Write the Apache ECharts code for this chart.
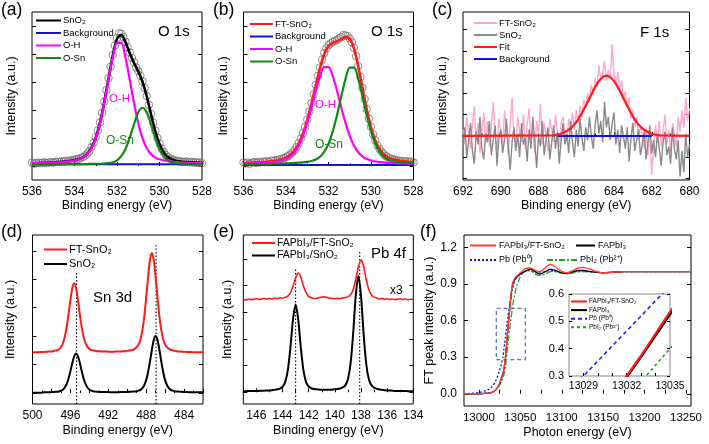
<!DOCTYPE html>
<html><head><meta charset="utf-8">
<script src="https://cdn.jsdelivr.net/npm/echarts@6/dist/echarts.min.js"></script>
<style>html,body{margin:0;padding:0;background:#fff}#c{width:709px;height:444px}</style>
</head><body><div id="c"></div>
<script>
// ---------- helpers for regular energy grids ----------
function seq(a, b, s) { const n = Math.round((b - a) / s); const r = []; for (let i = 0; i <= n; i++) r.push(Math.round((a + i * s) * 100) / 100); return r; }
function pairs(xs, ys) { return xs.map((x, i) => [x, ys[i]]); }

// ---------- (a) O 1s, SnO2 ----------
const aFitE = seq(536, 528, -0.2);
const aRawE = seq(536, 528, -0.1);
const aOH = [0.10,0.10,0.11,0.11,0.12,0.12,0.13,0.14,0.16,0.17,0.20,0.24,0.30,0.42,0.64,0.99,1.53,2.25,3.08,3.87,4.40,4.40,3.87,3.08,2.25,1.53,0.99,0.64,0.42,0.30,0.24,0.20,0.17,0.16,0.14,0.13,0.12,0.12,0.11,0.11,0.10];
const aOSn = [0.06,0.06,0.06,0.06,0.06,0.06,0.07,0.07,0.07,0.07,0.07,0.07,0.07,0.07,0.08,0.08,0.08,0.09,0.10,0.13,0.20,0.35,0.61,1.01,1.49,1.91,2.08,1.91,1.49,1.01,0.61,0.35,0.20,0.13,0.10,0.09,0.08,0.08,0.08,0.07,0.07];
const aEnv = [0.10,0.10,0.11,0.11,0.12,0.12,0.14,0.15,0.17,0.18,0.21,0.25,0.31,0.43,0.66,1.01,1.55,2.28,3.12,3.94,4.54,4.69,4.42,4.03,3.68,3.38,3.01,2.49,1.85,1.25,0.79,0.49,0.31,0.23,0.18,0.16,0.14,0.14,0.13,0.12,0.11];
const aRaw = [0.12,0.08,0.11,0.12,0.10,0.12,0.13,0.10,0.13,0.14,0.12,
  0.15,0.15,0.14,0.17,0.16,0.19,0.18,0.19,0.21,0.22,
  0.24,0.26,0.29,0.32,0.37,0.44,0.53,0.67,0.83,1.03,
  1.27,1.56,1.90,2.30,2.71,3.14,3.55,3.96,4.30,4.57,
  4.74,4.72,4.60,4.44,4.24,4.05,3.86,3.70,3.52,3.39,
  3.22,3.02,2.78,2.50,2.18,1.86,1.55,1.26,1.00,0.80,
  0.62,0.50,0.39,0.32,0.26,0.24,0.20,0.19,0.16,0.17,
  0.14,0.15,0.16,0.13,0.15,0.12,0.14,0.11,0.13,0.10];
const aBgE = [536, 528], aBg = [0.06, 0.06];

// ---------- (b) O 1s, FT-SnO2 ----------
const bOH = [0.08,0.09,0.09,0.10,0.11,0.11,0.13,0.14,0.16,0.20,0.25,0.34,0.49,0.73,1.07,1.54,2.09,2.69,3.21,3.53,3.53,3.21,2.69,2.09,1.54,1.07,0.73,0.49,0.34,0.25,0.20,0.16,0.14,0.13,0.11,0.11,0.10,0.09,0.09,0.08,0.08];
const bOSn = [0.06,0.06,0.06,0.07,0.07,0.07,0.07,0.08,0.08,0.09,0.09,0.10,0.11,0.12,0.13,0.15,0.18,0.23,0.33,0.51,0.79,1.23,1.81,2.48,3.11,3.51,3.51,3.11,2.48,1.81,1.23,0.79,0.51,0.33,0.23,0.18,0.15,0.13,0.12,0.11,0.10];
const bEnv = [0.10,0.11,0.11,0.13,0.14,0.14,0.16,0.18,0.20,0.25,0.30,0.40,0.56,0.81,1.16,1.65,2.23,2.88,3.50,4.00,4.28,4.40,4.46,4.53,4.61,4.54,4.20,3.56,2.78,2.02,1.39,0.91,0.61,0.42,0.30,0.25,0.21,0.18,0.17,0.15,0.14];
const bRaw = [0.13,0.09,0.12,0.08,0.12,0.14,0.11,0.15,0.13,0.16,0.14,
  0.17,0.15,0.19,0.18,0.21,0.20,0.24,0.26,0.28,0.32,
  0.35,0.41,0.48,0.57,0.68,0.82,0.98,1.17,1.40,1.66,
  1.95,2.25,2.56,2.90,3.22,3.52,3.80,4.03,4.20,4.31,
  4.38,4.43,4.47,4.50,4.56,4.60,4.68,4.66,4.64,4.55,
  4.42,4.22,3.92,3.57,3.18,2.79,2.39,2.03,1.69,1.40,
  1.13,0.92,0.74,0.61,0.50,0.42,0.35,0.31,0.27,0.25,
  0.22,0.21,0.19,0.17,0.18,0.15,0.17,0.14,0.16,0.13];
const bBgE = [536, 528], bBg = [0.04, 0.04];

// ---------- (c) F 1s ----------
const cE = seq(692, 680, -0.1);
const cFT = [0.3,-0.4,0.9,0.1,-0.6,0.5,1.4,-0.2,0.6,-0.8,
  0.2,1.1,-0.3,0.7,-0.5,0.4,1.6,0.0,-0.7,0.8,
  0.2,-0.4,1.2,0.3,-0.9,0.6,1.8,0.1,-0.5,0.9,
  0.2,-0.3,1.0,-0.6,0.5,1.3,-0.2,0.4,-0.8,0.7,
  0.1,1.5,-0.4,0.6,0.0,-0.7,0.8,0.3,-0.3,1.0,
  0.2,-0.5,0.6,0.9,0.1,-0.2,0.8,0.4,1.1,0.3,
  1.2,0.6,1.4,0.9,1.7,1.3,2.0,1.6,2.4,1.9,
  2.7,2.3,3.3,2.6,2.9,3.5,2.6,3.1,2.7,4.3,
  2.9,2.4,3.0,2.2,2.6,1.7,2.1,1.3,1.8,0.8,
  1.2,0.4,0.9,-0.2,0.5,0.1,-0.6,0.4,-0.9,0.2,
  -1.8,-0.4,0.5,-0.3,0.7,-0.5,0.2,1.0,-0.4,0.3,
  -0.8,0.6,0.1,-0.5,0.9,0.2,1.2,0.4,1.8,0.7,
  1.3];
const cSn = [-0.5,0.4,-1.0,-0.2,0.6,-0.7,-1.3,0.2,-0.4,0.9,
  -0.6,-1.1,0.1,-0.3,0.7,-0.9,-0.2,0.5,-1.4,-0.1,
  0.3,-0.8,-0.2,0.8,-0.5,-1.6,-0.3,0.4,-0.7,0.1,
  -1.0,0.6,-0.4,-0.1,-1.2,0.3,-0.6,0.9,-0.3,-1.5,
  0.0,-0.5,0.7,-0.9,-0.2,0.4,-1.1,-0.3,0.5,-0.6,
  0.2,-1.3,-0.2,0.6,-0.4,0.1,-0.8,0.7,-0.3,-1.0,
  0.3,-0.5,0.8,-0.1,-0.7,0.4,-0.2,0.9,0.0,-0.6,
  0.5,1.2,0.1,0.7,-0.3,1.6,0.4,0.9,-0.2,0.6,
  1.1,-0.4,0.3,-0.8,0.5,0.0,-0.6,0.4,-1.2,-0.1,
  0.6,-0.7,-0.2,0.3,-0.9,-0.4,0.2,-1.1,-0.3,0.5,
  -0.8,-0.2,-1.0,0.1,-0.6,-1.4,-0.3,0.2,-0.9,-0.5,
  -1.3,0.4,-0.6,-1.1,-0.2,-1.9,-0.7,-1.7,0.1,-1.0,
  -0.4];
const cFitE = [692,687.4,687.2,687.0,686.8,686.6,686.4,686.2,686.0,685.8,685.6,685.4,685.2,685.0,684.8,684.6,684.4,684.2,684.0,683.8,683.6,683.4,683.2,683.0,682.8,682.6,682.4,682.2,682.0,681.8,681.6,681.4,680];
const cFit = [0,0.02,0.03,0.06,0.10,0.18,0.29,0.44,0.65,0.92,1.24,1.59,1.95,2.29,2.57,2.76,2.82,2.76,2.57,2.29,1.95,1.59,1.24,0.92,0.65,0.44,0.29,0.18,0.10,0.06,0.03,0.02,0];
const cBgE = [687, 682], cBg = [0, 0];

// ---------- (d) Sn 3d ----------
const dE = seq(500, 482, -0.2);
const dBlack = [0.01,0.01,0.01,0.01,0.01,0.01,0.02,0.02,0.02,0.02,
  0.03,0.03,0.04,0.04,0.05,0.08,0.11,0.19,0.31,0.50,
  0.76,1.05,1.29,1.39,1.29,1.05,0.76,0.50,0.32,0.19,
  0.12,0.08,0.06,0.05,0.04,0.04,0.03,0.03,0.03,0.03,
  0.03,0.02,0.02,0.02,0.02,0.02,0.03,0.03,0.03,0.03,
  0.03,0.04,0.04,0.05,0.05,0.06,0.08,0.11,0.17,0.27,
  0.45,0.73,1.10,1.51,1.86,2.00,1.86,1.51,1.10,0.73,
  0.45,0.27,0.17,0.11,0.08,0.06,0.05,0.05,0.04,0.04,
  0.03,0.03,0.03,0.02,0.02,0.02,0.02,0.02,0.02,0.02,
  0.02];
const dRed = [1.43,1.43,1.43,1.43,1.44,1.44,1.44,1.45,1.45,1.46,
  1.46,1.47,1.49,1.51,1.54,1.61,1.74,1.96,2.30,2.76,
  3.26,3.69,3.86,3.69,3.26,2.76,2.31,1.97,1.75,1.62,
  1.55,1.51,1.50,1.48,1.47,1.47,1.46,1.46,1.46,1.46,
  1.45,1.45,1.45,1.45,1.46,1.46,1.46,1.46,1.47,1.47,
  1.48,1.49,1.50,1.52,1.55,1.61,1.70,1.89,2.20,2.69,
  3.35,4.07,4.68,4.93,4.68,4.07,3.35,2.69,2.20,1.89,
  1.70,1.61,1.55,1.52,1.50,1.48,1.47,1.46,1.46,1.45,
  1.45,1.44,1.44,1.44,1.44,1.43,1.43,1.43,1.43,1.43,
  1.43];
const dGuideE = [495.35, 486.95], dGuideTop = [4.26, 5.26];

// ---------- (e) Pb 4f ----------
const eE = seq(147, 134, -0.2);
const eBlack = [0.04,0.04,0.05,0.05,0.05,0.05,0.05,0.06,0.06,0.07,
  0.07,0.08,0.09,0.11,0.14,0.20,0.38,0.81,1.66,2.73,
  3.29,2.73,1.67,0.82,0.38,0.21,0.15,0.12,0.11,0.10,
  0.09,0.09,0.09,0.09,0.10,0.11,0.12,0.14,0.18,0.26,
  0.49,1.07,2.20,3.62,4.36,3.62,2.20,1.07,0.49,0.26,
  0.17,0.13,0.11,0.09,0.08,0.07,0.07,0.06,0.05,0.05,
  0.05,0.05,0.05,0.04,0.04,0.04];
const eRed = [3.49,3.46,3.50,3.47,3.49,3.51,3.48,3.50,3.52,3.49,
  3.52,3.50,3.53,3.51,3.54,3.53,3.56,3.61,3.73,3.98,
  4.29,4.47,4.32,3.99,3.74,3.60,3.55,3.52,3.53,3.55,
  3.57,3.58,3.56,3.53,3.52,3.51,3.53,3.51,3.54,3.55,
  3.58,3.66,3.85,4.24,4.71,4.97,4.73,4.22,3.85,3.65,
  3.57,3.54,3.50,3.52,3.49,3.51,3.48,3.50,3.47,3.49,
  3.51,3.48,3.50,3.47,3.49,3.48];
const eGuideE = [143.0, 138.1], eGuideTop = [4.64, 5.29];

// ---------- (f) Pb L3-edge XANES ----------
const fE = [12982,13000,13010,13015,13020,13024,13027,13029,13030,13031,13032,13033,13034,13035,13036,13038,13040,13042,13045,13050,13055,13062,13068,13074,13080,13086,13092,13100,13106,13114,13120,13126,13134,13142,13150,13160,13175,13200,13225,13256];
const fFT = [0.00,0.00,0.005,0.01,0.03,0.07,0.13,0.17,0.20,0.245,0.30,0.375,0.455,0.535,0.61,0.76,0.88,0.93,0.96,0.99,1.02,1.03,1.01,1.00,1.03,1.06,1.04,1.00,0.99,1.01,1.03,1.035,1.02,1.00,0.99,0.995,1.00,1.00,1.00,1.00];
const fPero = [0.00,0.00,0.005,0.01,0.03,0.07,0.12,0.165,0.195,0.24,0.295,0.37,0.448,0.525,0.60,0.75,0.87,0.92,0.95,0.98,1.00,1.02,1.00,0.98,1.00,1.02,1.01,0.99,0.985,1.00,1.01,1.01,1.00,0.995,0.99,0.995,1.00,1.00,1.00,1.00];
const fPb = [0.00,0.01,0.03,0.05,0.10,0.17,0.24,0.30,0.355,0.41,0.465,0.52,0.575,0.63,0.68,0.76,0.84,0.90,0.95,0.98,1.00,1.01,0.99,0.99,1.00,1.01,1.00,0.99,0.99,1.00,1.00,1.00,1.00,0.995,0.99,0.995,1.00,1.00,1.00,1.00];
const fPbI2 = [0.00,0.00,0.005,0.01,0.03,0.06,0.10,0.13,0.15,0.18,0.22,0.28,0.34,0.40,0.46,0.58,0.68,0.77,0.87,0.96,1.00,1.01,0.98,0.97,0.98,1.00,1.00,0.99,0.98,0.99,1.00,1.00,1.00,0.995,0.99,0.995,1.00,1.00,1.00,1.00];
const fBox = [13021, 13056, 0.28, 0.70]; // dashed zoom box (x1, x2, y1, y2)
const fTicks = [13000,13050,13100,13150,13200,13250];
const fYTicks = [0, 0.3, 0.6, 0.9, 1.2];
const insetXTicks = [13029, 13032, 13035];

// ---------- labels ----------
const LABEL = {
  aEnv:'SnO₂', aBg:'Background', aOH:'O-H', aOSn:'O-Sn',
  bEnv:'FT-SnO₂', bBg:'Background', bOH:'O-H', bOSn:'O-Sn',
  cFT:'FT-SnO₂', cSn:'SnO₂', cFit:'Fit', cBg:'Background',
  dRed:'FT-SnO₂', dBlack:'SnO₂',
  eRed:'FAPbI₃/FT-SnO₂', eBlack:'FAPbI₃/SnO₂',
  fFT:'FAPbI₃/FT-SnO₂', fPero:'FAPbI₃', fPb:'Pb (Pb⁰)', fPbI2:'PbI₂ (Pb²⁺)',
  iFT:'FAPbI₃/FT-SnO₂', iPero:'FAPbI₃', iPb:'Pb (Pb⁰)', iPbI2:'PbI₂ (Pb²⁺)'
};

const FONT = "'Liberation Sans', Arial, sans-serif";
const RED = '#ff1a1a', BLUE = '#1010e0', MAG = '#ff00ff', GREEN = '#118811', PINK = '#ffa6d2', GRAY = '#8a8a8a';

const grids = [
  {left:32, top:12, width:170, height:168},
  {left:243.5, top:12, width:170, height:168},
  {left:463, top:12, width:226.5, height:168},
  {left:32.5, top:235, width:170.5, height:169},
  {left:243.3, top:235, width:170, height:169},
  {left:464, top:235, width:227, height:171},
  {left:569, top:294, width:101, height:82, borderColor:'#888', backgroundColor:'#fff', z:8}
].map(g => Object.assign({show:true, borderColor:'#000', borderWidth:1, backgroundColor:'rgba(0,0,0,0)'}, g));

const tick = {inside:true, length:4, lineStyle:{color:'#000', width:1}};
const nameStyle = {color:'#000', fontSize:12.5, fontFamily:FONT};
function xAx(gi, min, max, o) {
  return Object.assign({type:'value', gridIndex:gi, min, max, inverse:true,
    axisLine:{show:false}, axisTick:tick,
    minorTick:{show:true, splitNumber:2, length:2.5, lineStyle:{color:'#000'}},
    splitLine:{show:false}, minorSplitLine:{show:false},
    axisLabel:{color:'#000', fontSize:12, fontFamily:FONT, margin:6},
    name:'Binding energy (eV)', nameLocation:'middle', nameGap:19, nameTextStyle:nameStyle}, o || {});
}
function yAx(gi, min, max, ticks, o) {
  return Object.assign({type:'value', gridIndex:gi, min, max,
    axisLine:{show:false}, axisTick:Object.assign({customValues:ticks}, tick),
    axisLabel:{show:false}, splitLine:{show:false},
    name:'Intensity (a.u.)', nameLocation:'middle', nameGap:14, nameTextStyle:nameStyle}, o || {});
}
function yMir(gi, min, max, ticks, o) {
  return Object.assign({type:'value', gridIndex:gi, position:'right', min, max,
    axisLine:{show:false}, axisTick:Object.assign({customValues:ticks}, tick),
    axisLabel:{show:false}, splitLine:{show:false}}, o || {});
}
const yt5 = [0,1,2,3,4,5];
const yc = [-2,-1,0,1,2,3,4,5];
const plain = v => String(v);

const xAxis = [
  xAx(0, 528, 536, {interval:2}),
  xAx(1, 528, 536, {interval:2}),
  xAx(2, 680, 692, {interval:2}),
  xAx(3, 482, 500, {interval:2, axisLabel:{color:'#000', fontSize:12, fontFamily:FONT, margin:6, formatter: v => ((v - 484) % 4 === 0 ? String(v) : '')}, nameGap:20}),
  xAx(4, 134, 147, {interval:2, nameGap:20}),
  xAx(5, 12982, 13256, {inverse:false, name:'Photon energy (eV)', nameGap:20,
     axisTick:Object.assign({customValues:[13000,13025,13050,13075,13100,13125,13150,13175,13200,13225,13250]}, tick),
     minorTick:{show:false},
     axisLabel:{customValues:fTicks, formatter:plain, color:'#000', fontSize:11.5, fontFamily:FONT, margin:6}}),
  xAx(6, 13028, 13035, {inverse:false, name:'', z:10,
     axisTick:Object.assign({customValues:[13029,13030,13031,13032,13033,13034]}, tick, {length:3}),
     minorTick:{show:false},
     axisLabel:{customValues:insetXTicks, formatter:plain, color:'#000', fontSize:10.5, fontFamily:FONT, margin:5}})
];
const yAxis = [
  yAx(0, -0.5, 5.5, yt5), yMir(0, -0.5, 5.5, yt5),
  yAx(1, -0.5, 5.5, yt5, {nameGap:13}), yMir(1, -0.5, 5.5, yt5),
  yAx(2, -2.07, 5.82, yc, {nameGap:14}), yMir(2, -2.07, 5.82, yc),
  yAx(3, -0.39, 5.56, yt5, {nameGap:15}), yMir(3, -0.39, 5.56, yt5),
  yAx(4, -0.44, 5.9, yt5, {nameGap:9}), yMir(4, -0.44, 5.9, yt5),
  yAx(5, -0.1, 1.3, fYTicks, {name:'FT peak intensity (a.u.)', nameGap:27,
     axisLabel:{show:true, customValues:fYTicks, formatter: v => v.toFixed(1), color:'#000', fontSize:12, fontFamily:FONT, margin:7}}),
  yMir(5, -0.1, 1.3, fYTicks),
  yAx(6, 0.3, 0.6, null, {name:'', interval:0.1, z:10,
     axisTick:Object.assign({}, tick, {length:3}),
     axisLabel:{show:true, formatter: v => v.toFixed(1), color:'#000', fontSize:11, fontFamily:FONT, margin:5}}),
  yMir(6, 0.3, 0.6, null, {interval:0.1, z:10, axisTick:Object.assign({}, tick, {length:3})})
];

function line(name, p, xs, ys, color, width, extra) {
  return Object.assign({type:'line', name, xAxisIndex:p, yAxisIndex:2 * p, data:pairs(xs, ys),
    symbol:'none', showSymbol:false, smooth:0.3, silent:true,
    lineStyle:{color, width}, itemStyle:{color}, z:3}, extra || {});
}
function guides(p, xs, tops, ymin) {
  return xs.map((x, i) => ({type:'line', xAxisIndex:p, yAxisIndex:2 * p, data:[[x, ymin], [x, tops[i]]],
    symbol:'none', silent:true, lineStyle:{color:'#000', width:1.1, type:[1.5, 2]}, z:2}));
}
function raw(p, xs, ys) {
  return {type:'scatter', xAxisIndex:p, yAxisIndex:2 * p, data:pairs(xs, ys), symbol:'circle', symbolSize:7.5, silent:true,
    itemStyle:{color:'rgba(0,0,0,0)', borderColor:'#707070', borderWidth:1}, z:1};
}

const series = [
  raw(0, aRawE, aRaw),
  line('aBg', 0, aBgE, aBg, BLUE, 2, {smooth:false}),
  line('aEnv', 0, aFitE, aEnv, '#000', 2.6),
  line('aOH', 0, aFitE, aOH, MAG, 2.2),
  line('aOSn', 0, aFitE, aOSn, GREEN, 2.2),

  raw(1, aRawE, bRaw),
  line('bBg', 1, bBgE, bBg, BLUE, 2, {smooth:false}),
  line('bEnv', 1, aFitE, bEnv, RED, 2.6),
  line('bOH', 1, aFitE, bOH, MAG, 2.2),
  line('bOSn', 1, aFitE, bOSn, GREEN, 2.2),

  line('cFT', 2, cE, cFT, PINK, 1.4, {smooth:false}),
  line('cSn', 2, cE, cSn, GRAY, 1.4, {smooth:false}),
  line('cBg', 2, cBgE, cBg, BLUE, 2, {smooth:false}),
  line('cFit', 2, cFitE, cFit, RED, 2.2),

  line('dRed', 3, dE, dRed, RED, 2),
  line('dBlack', 3, dE, dBlack, '#000', 2),
  ...guides(3, dGuideE, dGuideTop, -0.39),

  line('eRed', 4, eE, eRed, RED, 1.6, {smooth:0.2}),
  line('eBlack', 4, eE, eBlack, '#000', 2),
  ...guides(4, eGuideE, eGuideTop, -0.44),

  line('fPb', 5, fE, fPb, BLUE, 1.3, {smooth:0.2, lineStyle:{color:BLUE, width:1.3, type:[2, 2]}}),
  line('fPbI2', 5, fE, fPbI2, '#22a022', 1.3, {smooth:0.2, lineStyle:{color:'#22a022', width:1.3, type:[6, 2, 2, 2]}}),
  line('fPero', 5, fE, fPero, '#000', 1.2, {smooth:0.2}),
  line('fFT', 5, fE, fFT, '#ff3a3a', 1.4, {smooth:0.2,
    markArea:{silent:true, itemStyle:{color:'rgba(0,0,0,0)', borderColor:'#5a78b8', borderWidth:1.3, borderType:[4, 3]},
      data:[[{coord:[fBox[0], fBox[2]]}, {coord:[fBox[1], fBox[3]]}]]}}),

  line('iPb', 6, fE, fPb, '#1a1aff', 1.5, {smooth:false, z:12, lineStyle:{color:'#1a1aff', width:1.5, type:[4, 3]}}),
  line('iPbI2', 6, fE, fPbI2, '#1a9a1a', 1.5, {smooth:false, z:12, lineStyle:{color:'#1a9a1a', width:1.5, type:[3, 3]}}),
  line('iPero', 6, fE, fPero, '#000', 2.2, {smooth:false, z:12}),
  line('iFT', 6, fE, fFT, '#ff1a1a', 2.2, {smooth:false, z:12})
];

function lg(names, left, top, o) {
  return Object.assign({data:names, left, top, orient:'vertical', itemWidth:22, itemHeight:9, itemGap:2.5, padding:0,
    selectedMode:false, formatter: n => LABEL[n], itemStyle:{opacity:0},
    textStyle:{fontSize:9.5, fontFamily:FONT, color:'#000', padding:[0, 0, 0, -3]}}, o || {});
}
const fLegText = {fontSize:9, fontFamily:FONT, color:'#000', padding:[0,0,0,-2]};
const legend = [
  lg(['aEnv','aBg','aOH','aOSn'], 35, 15.5, {itemWidth:25}),
  lg(['bEnv','bBg','bOH','bOSn'], 249, 19, {itemWidth:23}),
  lg(['cFT','cSn','cFit','cBg'], 473, 18, {itemWidth:23, itemGap:2}),
  lg(['dRed','dBlack'], 43, 244, {itemWidth:23, itemHeight:10, itemGap:3.5, textStyle:{fontSize:11, fontFamily:FONT, color:'#000', padding:[0,0,0,-3]}}),
  lg(['eRed','eBlack'], 251, 237.5, {itemWidth:23, itemHeight:9, itemGap:1.5, textStyle:{fontSize:10.5, fontFamily:FONT, color:'#000', padding:[0,0,0,-3]}}),
  lg(['fFT'], 469, 241, {itemWidth:26, textStyle:fLegText}),
  lg(['fPero'], 575, 241, {itemWidth:19, textStyle:fLegText}),
  lg(['fPb'], 469, 255.5, {itemWidth:26, textStyle:fLegText}),
  lg(['fPbI2'], 546, 255.5, {itemWidth:30, textStyle:fLegText}),
  lg(['iFT','iPero','iPb','iPbI2'], 570, 298, {itemWidth:16, itemHeight:7, itemGap:1.6, z:20,
     textStyle:{fontSize:6.5, fontFamily:FONT, color:'#000', padding:[0,0,0,-3]}})
];

function txt(text, x, y, size, color, extra) {
  return Object.assign({type:'text', x, y, silent:true, z:30,
    style:{text, fill:color || '#000', font:size + 'px ' + FONT, textAlign:'left', textVerticalAlign:'middle'}}, extra || {});
}
const graphic = [
  txt('(a)', 1, 10, 17.5), txt('(b)', 213, 10, 17.5), txt('(c)', 432, 10, 17.5),
  txt('(d)', 1, 232, 17.5), txt('(e)', 213, 232, 17.5), txt('(f)', 420, 232, 17.5),
  txt('O 1s', 158, 32, 15), txt('O 1s', 371, 32, 15), txt('F 1s', 640, 33, 15),
  txt('Sn 3d', 93, 298, 15), txt('Pb 4f', 371, 254, 15), txt('x3', 390, 291, 12),
  txt('O-H', 109, 98.5, 11.5, MAG), txt('O-Sn', 106, 141, 12, GREEN),
  txt('O-H', 315, 104.5, 11.5, MAG), txt('O-Sn', 315, 145, 12, GREEN)
];

const chart = echarts.init(document.getElementById('c'), null, {renderer:'canvas'});
chart.setOption({animation:false, backgroundColor:'#fff', grid:grids, xAxis, yAxis, series, legend, graphic});
</script></body></html>
